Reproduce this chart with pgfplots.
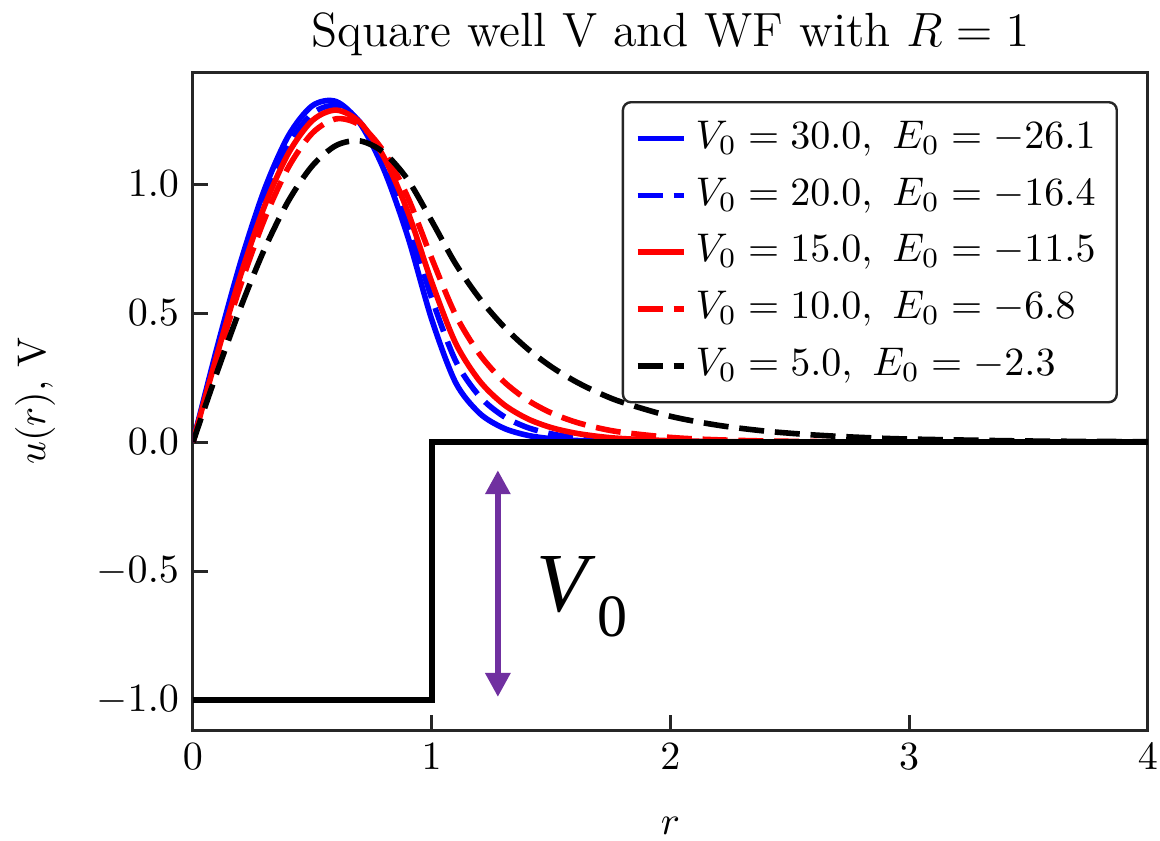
\documentclass[border=0pt]{standalone}
\usepackage{fontspec}
\usepackage{pgfplots}
\pgfplotsset{compat=1.18}
\usetikzlibrary{arrows.meta}
\definecolor{vpurple}{HTML}{7030A0}
\begin{document}
\begin{tikzpicture}
\begin{axis}[
  scale only axis,
  width=238.75pt, height=164.5pt,
  xmin=0, xmax=4, ymin=-1.116, ymax=1.434,
  xtick={0,1,2,3,4},
  ytick={-1,-0.5,0,0.5,1},
  yticklabel style={/pgf/number format/fixed,/pgf/number format/fixed zerofill,/pgf/number format/precision=1},
  tick align=inside, xtick pos=bottom, ytick pos=left,
  major tick length=3.75pt,
  tick style={black!85, line width=0.75pt},
  axis line style={black!85, line width=0.75pt},
  title={Square well V and WF with $R=1$},
  title style={font=\large, yshift=-5.5pt},
  xlabel={$r$}, ylabel={$u(r)$, V},
  xlabel style={yshift=-5pt},
  ylabel style={yshift=3.5pt},
  legend cell align=left,
  legend style={at={(axis description cs:1,1)}, anchor=north east, xshift=-7.5pt, yshift=-7.25pt,
    draw=black!85, line width=0.6pt, rounded corners=2pt,
    nodes={text height=7pt, text depth=2.2pt, inner ysep=2.5pt, inner xsep=2.3pt},
    row sep=0pt},
  legend image code/.code={\draw (2pt,0pt) -- (13.5pt,0pt);},
  every axis plot/.append style={line width=1.4pt},
]
\addplot[blue, smooth] coordinates {
(0,0) (0.1,0.3632) (0.2,0.6987) (0.3,0.9803) (0.4,1.1873) (0.5,1.3034) (0.6,1.3195) (0.7,1.2343) (0.8,1.0552) (0.9,0.7952) (1.0,0.4751)
(1.1,0.2305) (1.2,0.1118) (1.3,0.0543) (1.4,0.0263) (1.5,0.0128) (1.6,0.0062) (1.8,0.0015) (2.0,0.0003) (2.5,0) (3,0) (4,0)};
\addlegendentry{$V_0=30.0,\ E_0=-26.1$}
\addplot[blue, smooth, dash pattern=on 6.25pt off 2.7pt] coordinates {
(0,0) (0.1,0.3481) (0.2,0.6709) (0.3,0.9450) (0.4,1.1505) (0.5,1.2733) (0.6,1.3031) (0.7,1.2391) (0.8,1.0846) (0.9,0.8517) (1.0,0.5572)
(1.1,0.3145) (1.2,0.1775) (1.3,0.1002) (1.4,0.0566) (1.5,0.0319) (1.6,0.0180) (1.8,0.0057) (2.0,0.0018) (2.5,0.0001) (3,0) (4,0)};
\addlegendentry{$V_0=20.0,\ E_0=-16.4$}
\addplot[red, smooth] coordinates {
(0,0) (0.1,0.3356) (0.2,0.6479) (0.3,0.9153) (0.4,1.1196) (0.5,1.2460) (0.6,1.2864) (0.7,1.2379) (0.8,1.1033) (0.9,0.8921) (1.0,0.6197)
(1.1,0.3835) (1.2,0.2373) (1.3,0.1468) (1.4,0.0908) (1.5,0.0562) (1.6,0.0348) (1.7,0.0215) (1.8,0.0133) (2.0,0.0051) (2.2,0.0020) (2.5,0.0005) (3,0) (4,0)};
\addlegendentry{$V_0=15.0,\ E_0=-11.5$}
\addplot[red, smooth, dash pattern=on 6.25pt off 2.7pt] coordinates {
(0,0) (0.1,0.3149) (0.2,0.6096) (0.3,0.8650) (0.4,1.0654) (0.5,1.1973) (0.6,1.2526) (0.7,1.2277) (0.8,1.1242) (0.9,0.9478) (1.0,0.7118)
(1.1,0.4926) (1.2,0.3409) (1.3,0.2359) (1.4,0.1633) (1.5,0.1130) (1.6,0.0782) (1.7,0.0541) (1.8,0.0374) (2.0,0.0179) (2.2,0.0086) (2.5,0.0028) (3.0,0.0005) (4,0)};
\addlegendentry{$V_0=10.0,\ E_0=-6.8$}
\addplot[black, smooth, dash pattern=on 6.25pt off 2.7pt] coordinates {
(0,0) (0.1,0.2685) (0.2,0.5227) (0.3,0.7487) (0.4,0.9350) (0.5,1.0708) (0.6,1.1496) (0.7,1.1668) (0.8,1.1214) (0.9,1.0162) (1.0,0.8564)
(1.1,0.6907) (1.2,0.5571) (1.3,0.4493) (1.4,0.3624) (1.5,0.2923) (1.6,0.2358) (1.7,0.1901) (1.8,0.1534) (2.0,0.0998) (2.2,0.0649) (2.4,0.0422) (2.6,0.0275) (2.8,0.0179) (3.0,0.0116) (3.5,0.0040) (4.0,0.0014)};
\addlegendentry{$V_0=5.0,\ E_0=-2.3$}
\addplot[black, line width=1.5pt, forget plot] coordinates {(0,-1) (1,-1) (1,0) (4,0)};
\addplot[vpurple, line width=1.5pt, {Triangle[width=6pt,length=6pt]}-{Triangle[width=6pt,length=6pt]}, forget plot] coordinates {(1.277,-0.109) (1.277,-0.988)};
\node at (axis cs:1.63,-0.6) {\fontspec{Liberation Serif}\fontsize{21}{25}\selectfont\textit{V}\kern0.5pt\raisebox{-0.3em}{\fontsize{15}{18}\selectfont 0}};
\coordinate (sw) at (rel axis cs:0,0);
\end{axis}
\pgfresetboundingbox
\path (sw) ++(-48.25pt,-27.5pt) rectangle ++(290pt,210pt);
\end{tikzpicture}
\end{document}
